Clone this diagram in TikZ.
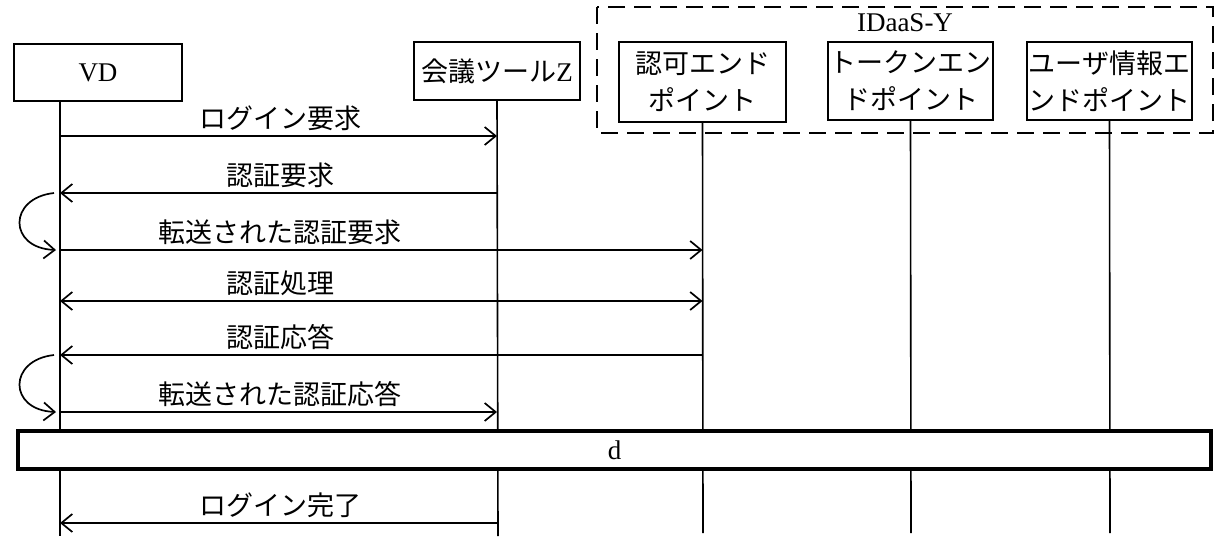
\documentclass[tikz,border=0pt]{standalone}
\usepackage{fontspec}
\setmainfont{Liberation Serif}
\newfontfamily\cjk{Noto Sans CJK JP}
\usetikzlibrary{arrows.meta}
\tikzset{
  box/.style={draw, line width=1pt, fill=white, inner sep=0pt, align=center,
              font=\fontsize{13.5}{18.5}\selectfont},
  life/.style={line width=0.8pt},
  msg/.style={line width=0.85pt, -{Straight Barb[length=5.5pt,width=9pt,line width=0.85pt]}},
  dmsg/.style={line width=0.85pt, {Straight Barb[length=5.5pt,width=9pt,line width=0.85pt]}-{Straight Barb[length=5.5pt,width=9pt,line width=0.85pt]}},
  lbl/.style={font=\fontsize{13.5}{16}\selectfont\cjk, inner sep=0pt},
  grp/.style={draw, line width=1.3pt, dash pattern=on 8.5pt off 4.5pt},
  bar/.style={draw, line width=1.6pt, fill=white, minimum width=596.5pt, minimum height=19pt,
              font=\fontsize{13.5}{16}\selectfont}
}
\begin{document}
\begin{tikzpicture}[x=0.5pt,y=-0.5pt]
\useasboundingbox (0,0) rectangle (1220,546);
% group box
\draw[grp] (597,7) rectangle (1213,133);
\node[font=\fontsize{13.5}{16}\selectfont, inner sep=0pt] (grpl) at (905,23) {IDaaS-Y};
% participant boxes
\node[box, minimum width=84pt, minimum height=28.5pt] (vd) at (98,72.5) {VD};
\node[box, minimum width=83pt, minimum height=29pt] (zt) at (497,71) {{\cjk 会議ツール}Z};
\node[box, minimum width=83.5pt, minimum height=40pt] (az) at (702.5,82) {\cjk 認可エンド\\\cjk ポイント};
\node[box, minimum width=82.5pt, minimum height=39pt] (tk) at (910.5,81) {\cjk トークンエン\\\cjk ドポイント};
\node[box, minimum width=82.5pt, minimum height=39pt] (ui) at (1109.5,81) {\cjk ユーザ情報エ\\\cjk ンドポイント};
% lifeline coordinates
\coordinate (vdt) at (60,101);  \coordinate (vdb) at (60,536);
\coordinate (ztt) at (zt.south); \coordinate (ztb) at (498,536);
\coordinate (azt) at (az.south); \coordinate (azb) at (703,533);
\coordinate (tkt) at (tk.south); \coordinate (tkb) at (911,533);
\coordinate (uit) at (ui.south); \coordinate (uib) at (1110,533);
\draw[life] (vdt) -- (vdb);
\draw[life] (ztt) -- (ztb);
\draw[life] (azt) -- (azb);
\draw[life] (tkt) -- (tkb);
\draw[life] (uit) -- (uib);
% message rows
\coordinate (r1) at (0,136);
\coordinate (r2) at (0,193);
\coordinate (r3) at (0,250);
\coordinate (r4) at (0,301);
\coordinate (r5) at (0,355);
\coordinate (r6) at (0,412);
\coordinate (r7) at (0,523);
\draw[msg] (vdt |- r1) -- (ztt |- r1);
\node[lbl] (l1) at (280,118) {ログイン要求};
\draw[msg] (ztt |- r2) -- (vdt |- r2);
\node[lbl] (l2) at (280,175) {認証要求};
\coordinate (c1s) at (54,193); \coordinate (c1e) at (56,250);
\draw[msg] (c1s) .. controls (8,198) and (8,248) .. (c1e);
\draw[msg] (vdt |- r3) -- (azt |- r3);
\node[lbl] (l3) at (280,232) {転送された認証要求};
\draw[dmsg] (vdt |- r4) -- (azt |- r4);
\node[lbl] (l4) at (280,283) {認証処理};
\draw[msg] (azt |- r5) -- (vdt |- r5);
\node[lbl] (l5) at (280,337) {認証応答};
\coordinate (c2s) at (54,355); \coordinate (c2e) at (56,412);
\draw[msg] (c2s) .. controls (8,360) and (8,410) .. (c2e);
\draw[msg] (vdt |- r6) -- (ztt |- r6);
\node[lbl] (l6) at (280,394) {転送された認証応答};
% d bar
\node[bar] (d) at (614.5,450) {d};
\draw[msg] (ztt |- r7) -- (vdt |- r7);
\node[lbl] (l7) at (280,505) {ログイン完了};
\end{tikzpicture}
\end{document}
